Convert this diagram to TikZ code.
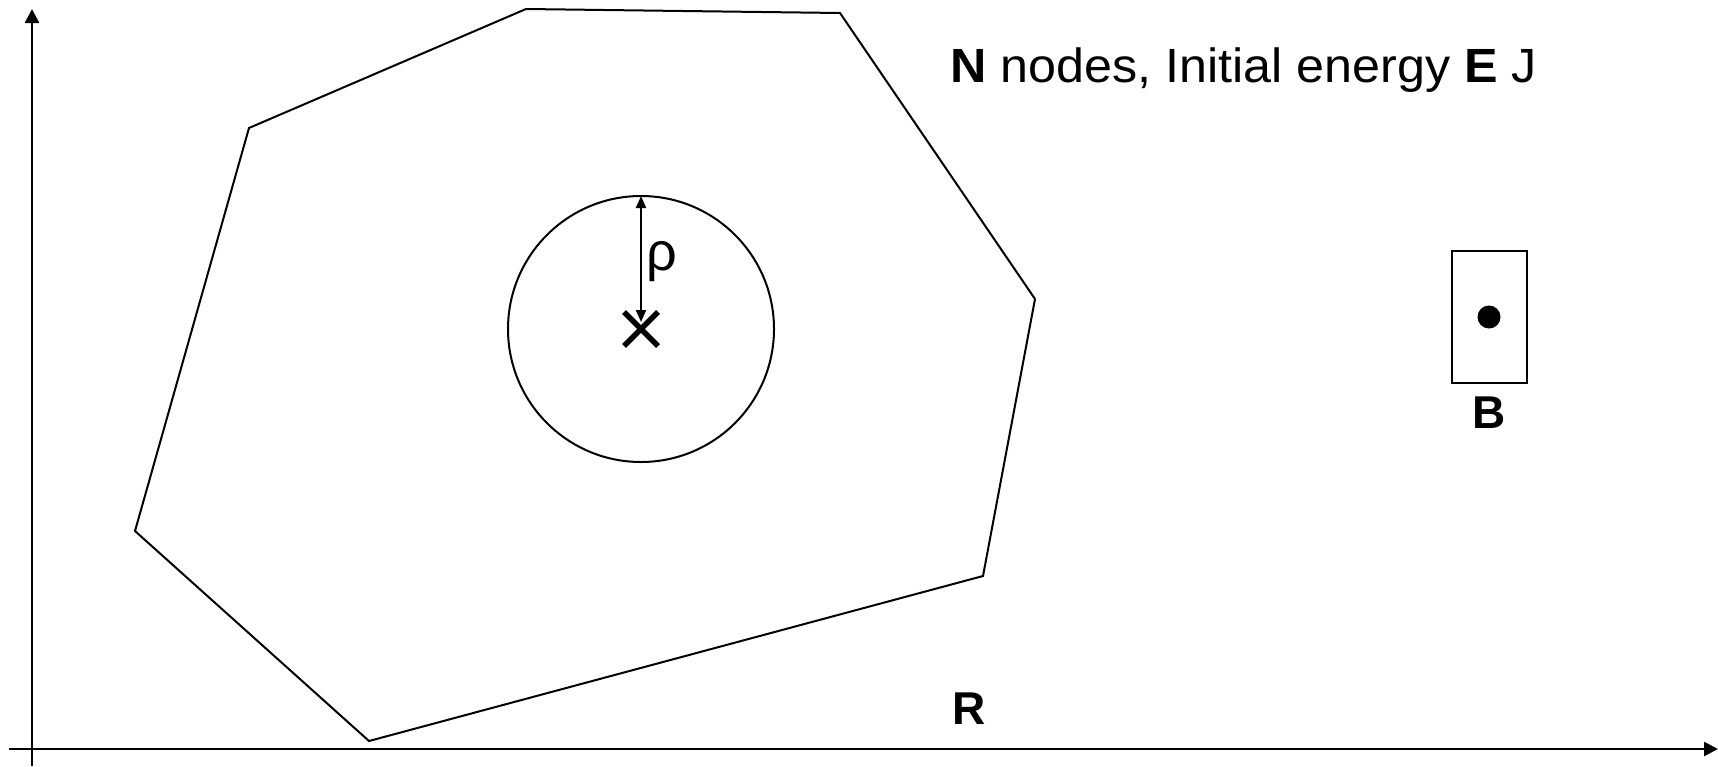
\documentclass[tikz,border=0pt]{standalone}
\usepackage{fontspec}
\setmainfont{Liberation Sans}
\usetikzlibrary{arrows.meta}
\begin{document}
\begin{tikzpicture}[x=1pt,y=-1pt,
  edge/.style={line width=2pt,line join=miter},
  axis/.style={line width=2.6pt,-{Triangle[length=14pt,width=14pt]}},
  lbl/.style={font=\fontsize{46}{50}\selectfont,inner sep=0pt}]
\useasboundingbox (0,0) rectangle (1718,766);
% axes
\coordinate (yo) at (32,766);
\coordinate (yt) at (32,9);
\coordinate (xo) at (9,749);
\coordinate (xt) at (1718,749);
\draw[axis] (yo) -- (yt);
\draw[axis] (xo) -- (xt);
% polygon
\coordinate (p1) at (526,9);
\coordinate (p2) at (840,13);
\coordinate (p3) at (1035,299);
\coordinate (p4) at (983,576);
\coordinate (p5) at (369,741);
\coordinate (p6) at (135,531);
\coordinate (p7) at (249,128);
\draw[edge] (p1) -- (p2) -- (p3) -- (p4) -- (p5) -- (p6) -- (p7) -- cycle;
% circle
\coordinate (c) at (641,329);
\draw[edge] (c) circle[radius=133];
\coordinate (ctop) at (641,196);
\coordinate (cbot) at (641,322);
\draw[line width=2pt,{Triangle[length=12pt,width=10pt]}-{Triangle[length=12pt,width=10pt]}] (cbot) -- (ctop);
\draw[line width=5.5pt] (624,312) -- (658,346) (658,312) -- (624,346);
\node[lbl,font=\fontsize{54}{58}\selectfont] (rho) at (662,262) {ρ};
% base station
\node[draw,line width=2pt,minimum width=75pt,minimum height=132pt,inner sep=0pt] (box) at (1489.5,317) {};
\fill (1489,317) circle[radius=11.5];
\node[lbl,font=\fontsize{46}{50}\selectfont\bfseries] (B) at (1489,413) {B};
% labels
\node[lbl,anchor=base west,font=\fontsize{48}{52}\selectfont,xscale=1.047,transform shape] (title) at (950,82) {\textbf{N} nodes, Initial energy \textbf{E} J};
\node[lbl,font=\fontsize{46}{50}\selectfont\bfseries] (R) at (969,709) {R};
\end{tikzpicture}
\end{document}
